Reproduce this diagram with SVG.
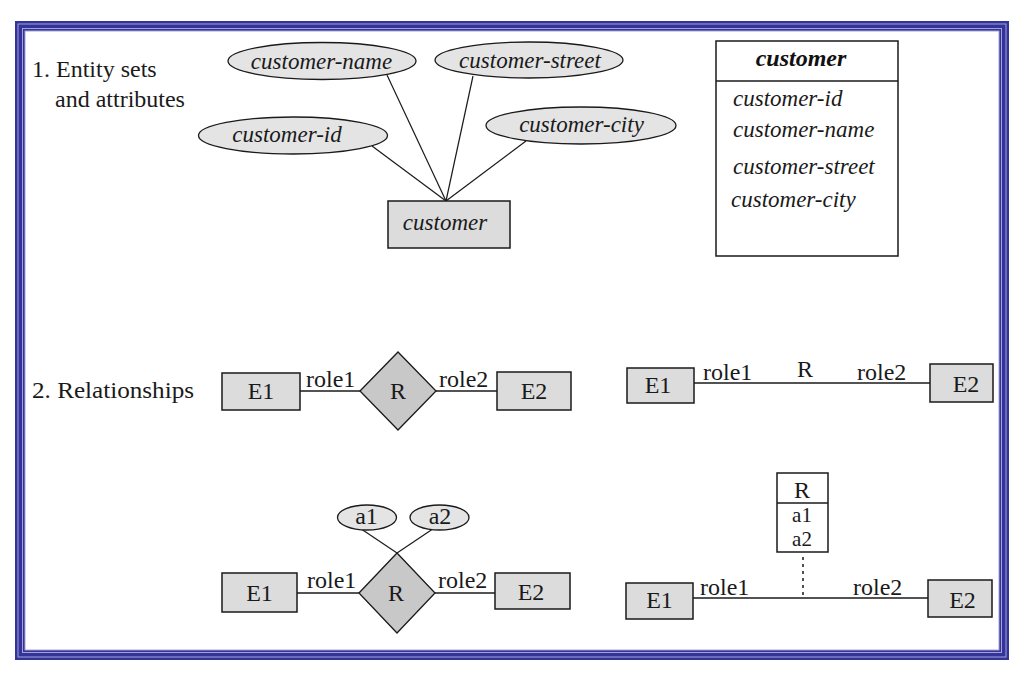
<svg xmlns="http://www.w3.org/2000/svg" width="1020" height="676" viewBox="0 0 1020 676">
<style>
.t{font-family:"Liberation Serif","Times New Roman",serif;font-size:24px;fill:#1a1a1a}
.s{font-size:21px}
.i{font-family:"Liberation Serif","Times New Roman",serif;font-size:23px;font-style:italic;fill:#1a1a1a}
.bi{font-family:"Liberation Serif","Times New Roman",serif;font-size:24px;font-style:italic;font-weight:bold;fill:#111}
.m{text-anchor:middle}
.ell{fill:#e4e4e4;stroke:#1a1a1a;stroke-width:1.3}
.ent{fill:#dcdcdc;stroke:#1a1a1a;stroke-width:1.5}
.dia{fill:#c8c8c8;stroke:#1a1a1a;stroke-width:1.3}
.box{fill:#ffffff;stroke:#1a1a1a;stroke-width:1.5}
.ln{stroke:#1a1a1a;stroke-width:1.2;fill:none}
.ln2{stroke:#1a1a1a;stroke-width:1.6;fill:none}
.dk{fill:#333399}
.lt{fill:#a3a3d6}
</style>
<rect width="1020" height="676" fill="#ffffff"/>
<g id="frame">
<rect class="dk" x="15" y="21" width="994" height="639"/>
<rect class="lt" x="17.5" y="23.5" width="989" height="634"/>
<rect class="dk" x="18.5" y="24.5" width="987" height="632"/>
<rect class="lt" x="22" y="28" width="980" height="625"/>
<rect class="dk" x="23" y="29" width="978" height="623"/>
<rect class="lt" x="24.5" y="30.5" width="975" height="620"/>
<rect fill="#ffffff" x="25.5" y="31.5" width="973" height="618"/>
</g>
<g id="labels">
<text class="t" x="32" y="77">1. Entity sets</text>
<text class="t" x="55" y="107">and attributes</text>
<text class="t" x="32" y="398" textLength="162" lengthAdjust="spacingAndGlyphs">2. Relationships</text>
</g>
<g id="connectors">
<line class="ln" x1="387" y1="75" x2="446" y2="201"/>
<line class="ln" x1="473" y1="76" x2="446" y2="201"/>
<line class="ln" x1="372" y1="146" x2="446" y2="201"/>
<line class="ln" x1="526" y1="141" x2="446" y2="201"/>
<line class="ln2" x1="300" y1="391" x2="360" y2="391"/>
<line class="ln2" x1="436" y1="391" x2="497" y2="391"/>
<line class="ln2" x1="694" y1="383" x2="930" y2="383"/>
<line class="ln" x1="362" y1="529.5" x2="397" y2="553"/>
<line class="ln" x1="432" y1="529.5" x2="397" y2="553"/>
<line class="ln2" x1="297" y1="593" x2="359" y2="593"/>
<line class="ln2" x1="435" y1="593" x2="495" y2="593"/>
<line class="ln2" x1="693" y1="598" x2="928" y2="598"/>
<line stroke="#1a1a1a" stroke-width="1.5" stroke-dasharray="3,4" x1="803" y1="557" x2="803" y2="596"/>
</g>
<g id="attr-customer-name">
<ellipse class="ell" cx="322" cy="61" rx="94" ry="18.5"/>
<text class="i m" x="321.5" y="69">customer-name</text>
</g>
<g id="attr-customer-street">
<ellipse class="ell" cx="529" cy="60" rx="94" ry="18"/>
<text class="i m" x="530" y="68">customer-street</text>
</g>
<g id="attr-customer-id">
<ellipse class="ell" cx="293" cy="135.5" rx="94.5" ry="18.5"/>
<text class="i m" x="287" y="142">customer-id</text>
</g>
<g id="attr-customer-city">
<ellipse class="ell" cx="581" cy="125.5" rx="95" ry="18.5"/>
<text class="i m" x="581.5" y="132">customer-city</text>
</g>
<g id="entity-customer">
<rect class="ent" x="388" y="201" width="122" height="47"/>
<text class="i m" x="445" y="230">customer</text>
</g>
<g id="uml-customer">
<rect class="box" x="716" y="41" width="182" height="215"/>
<line class="ln2" x1="716" y1="81" x2="898" y2="81"/>
<text class="bi m" x="801" y="66">customer</text>
<text class="i" x="733" y="106">customer-id</text>
<text class="i" x="733" y="137">customer-name</text>
<text class="i" x="733" y="174">customer-street</text>
<text class="i" x="731" y="206.5">customer-city</text>
</g>
<g id="r1-E1">
<rect class="ent" x="222" y="373" width="78" height="37"/>
<text class="t m" x="261" y="399">E1</text>
</g>
<g id="r1-R">
<polygon class="dia" points="360,391 398,352 436,391 398,430"/>
<text class="t m" x="398" y="399">R</text>
</g>
<g id="r1-E2">
<rect class="ent" x="497" y="372" width="74" height="38"/>
<text class="t m" x="534" y="399">E2</text>
</g>
<g id="r1-roles">
<text class="t" x="306" y="387">role1</text>
<text class="t" x="439" y="387">role2</text>
</g>
<g id="r2-E1">
<rect class="ent" x="627" y="368" width="67" height="35"/>
<text class="t m" x="658" y="393">E1</text>
</g>
<g id="r2-E2">
<rect class="ent" x="930" y="364" width="63" height="38"/>
<text class="t m" x="966" y="392">E2</text>
</g>
<g id="r2-labels">
<text class="t" x="703" y="380">role1</text>
<text class="t m" x="805" y="377">R</text>
<text class="t" x="857" y="380">role2</text>
</g>
<g id="r3-a1">
<ellipse class="ell" cx="367" cy="517.5" rx="29.5" ry="12.5"/>
<text class="t m" x="366.5" y="524">a1</text>
</g>
<g id="r3-a2">
<ellipse class="ell" cx="439.5" cy="517.5" rx="29.5" ry="12.5"/>
<text class="t m" x="440" y="524">a2</text>
</g>
<g id="r3-R">
<polygon class="dia" points="359,593 397,553 435,593 397,633"/>
<text class="t m" x="396" y="601">R</text>
</g>
<g id="r3-E1">
<rect class="ent" x="222" y="573" width="75" height="39"/>
<text class="t m" x="259.5" y="601">E1</text>
</g>
<g id="r3-E2">
<rect class="ent" x="495" y="573" width="75" height="36"/>
<text class="t m" x="531" y="600">E2</text>
</g>
<g id="r3-roles">
<text class="t" x="307" y="588">role1</text>
<text class="t" x="438" y="588">role2</text>
</g>
<g id="r4-R">
<rect class="box" x="777" y="473" width="51" height="79"/>
<line class="ln2" x1="777" y1="503" x2="828" y2="503"/>
<text class="t m" x="802" y="498">R</text>
<text class="t s m" x="802" y="522">a1</text>
<text class="t s m" x="802" y="546">a2</text>
</g>
<g id="r4-E1">
<rect class="ent" x="626" y="583" width="67" height="36"/>
<text class="t m" x="659.5" y="608">E1</text>
</g>
<g id="r4-E2">
<rect class="ent" x="928" y="580" width="64" height="37"/>
<text class="t m" x="962.5" y="608">E2</text>
</g>
<g id="r4-roles">
<text class="t" x="700" y="595">role1</text>
<text class="t" x="853" y="595">role2</text>
</g>
</svg>
